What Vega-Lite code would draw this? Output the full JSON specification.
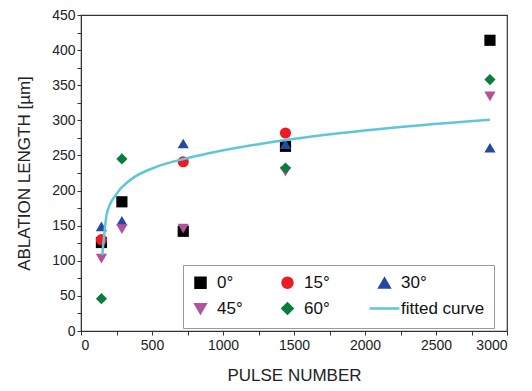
{
  "$schema": "https://vega.github.io/schema/vega-lite/v6.json",
  "width": 426,
  "height": 316,
  "autosize": {"type": "none"},
  "padding": {"left": 81, "top": 15, "right": 25, "bottom": 60},
  "background": "white",
  "config": {
    "font": "Liberation Sans",
    "view": {"stroke": "#333333", "strokeWidth": 1.2},
    "axis": {
      "grid": false,
      "domainColor": "#333333",
      "tickColor": "#333333",
      "labelColor": "#222222",
      "titleColor": "#222222",
      "labelFontSize": 14,
      "titleFontSize": 17,
      "titleFontWeight": "normal",
      "tickSize": 4
    }
  },
  "datasets": {
    "pts": [
      {"pulse": 144, "length": 126, "series": "0°"},
      {"pulse": 288, "length": 184, "series": "0°"},
      {"pulse": 720, "length": 142, "series": "0°"},
      {"pulse": 1440, "length": 263, "series": "0°"},
      {"pulse": 2880, "length": 414, "series": "0°"},
      {"pulse": 144, "length": 130, "series": "15°"},
      {"pulse": 720, "length": 241, "series": "15°"},
      {"pulse": 1440, "length": 282, "series": "15°"},
      {"pulse": 144, "length": 149, "series": "30°"},
      {"pulse": 288, "length": 157, "series": "30°"},
      {"pulse": 720, "length": 267, "series": "30°"},
      {"pulse": 1440, "length": 266, "series": "30°"},
      {"pulse": 2880, "length": 261, "series": "30°"},
      {"pulse": 144, "length": 103, "series": "45°"},
      {"pulse": 288, "length": 145, "series": "45°"},
      {"pulse": 720, "length": 146, "series": "45°"},
      {"pulse": 1440, "length": 227, "series": "45°"},
      {"pulse": 2880, "length": 334, "series": "45°"},
      {"pulse": 144, "length": 46, "series": "60°"},
      {"pulse": 288, "length": 245, "series": "60°"},
      {"pulse": 1440, "length": 232, "series": "60°"},
      {"pulse": 2880, "length": 358, "series": "60°"}
    ],
    "fit": [
      {"pulse": 150, "length": 108, "series": "fitted curve"},
      {"pulse": 183, "length": 168, "series": "fitted curve"},
      {"pulse": 253, "length": 196, "series": "fitted curve"},
      {"pulse": 347, "length": 215, "series": "fitted curve"},
      {"pulse": 535, "length": 234, "series": "fitted curve"},
      {"pulse": 723, "length": 245, "series": "fitted curve"},
      {"pulse": 900, "length": 253, "series": "fitted curve"},
      {"pulse": 1440, "length": 272, "series": "fitted curve"},
      {"pulse": 2013, "length": 286, "series": "fitted curve"},
      {"pulse": 2880, "length": 301, "series": "fitted curve"}
    ]
  },
  "encoding": {
    "x": {
      "field": "pulse", "type": "quantitative",
      "scale": {"domain": [0, 3000], "nice": false},
      "axis": {
        "title": "PULSE NUMBER", "titlePadding": 15,
        "values": [0,250,500,750,1000,1250,1500,1750,2000,2250,2500,2750,3000],
        "labelExpr": "datum.value % 500 == 0 ? datum.label : ''",
        "format": "d", "labelPadding": 3
      }
    },
    "y": {
      "field": "length", "type": "quantitative",
      "scale": {"domain": [0, 450], "nice": false},
      "axis": {
        "title": "ABLATION LENGTH [µm]", "titlePadding": 18,
        "values": [0,25,50,75,100,125,150,175,200,225,250,275,300,325,350,375,400,425,450],
        "labelExpr": "datum.value % 50 == 0 ? datum.label : ''",
        "format": "d"
      }
    }
  },
  "layer": [
    {
      "data": {"name": "pts"},
      "mark": {"type": "point", "filled": true, "opacity": 1, "size": 125},
      "encoding": {
        "color": {
          "field": "series", "type": "nominal",
          "scale": {
            "domain": ["0°", "15°", "30°", "45°", "60°", "fitted curve"],
            "range": ["#000000", "#ed1c24", "#2548a0", "#b4519f", "#0a7d3c", "#5ec6da"]
          },
          "legend": {
            "title": null,
            "orient": "none",
            "legendX": 102,
            "legendY": 250,
            "columns": 3,
            "direction": "horizontal",
            "columnPadding": 34,
            "rowPadding": 5,
            "padding": 9,
            "strokeColor": "#999999",
            "fillColor": "white",
            "labelFontSize": 17,
            "labelColor": "#111111",
            "labelOffset": 8,
            "symbolSize": 110,
            "symbolStrokeWidth": 2.5,
            "symbolOpacity": 1,
            "encode": {
              "symbols": {"update": {
                "stroke": {"scale": "color", "field": "value"},
                "opacity": {"value": 1},
                "size": {"signal": "datum.value === 'fitted curve' ? 900 : 100"}
              }}
            }
          }
        },
        "shape": {
          "field": "series", "type": "nominal",
          "scale": {
            "domain": ["0°", "15°", "30°", "45°", "60°", "fitted curve"],
            "range": ["square", "circle", "triangle-up", "triangle-down", "diamond", "stroke"]
          }
        }
      }
    },
    {
      "data": {"name": "fit"},
      "mark": {"type": "line", "strokeWidth": 2.5, "interpolate": "monotone"},
      "encoding": {
        "color": {"field": "series", "type": "nominal"}
      }
    }
  ],
  "resolve": {"scale": {"color": "shared", "shape": "shared"}}
}
